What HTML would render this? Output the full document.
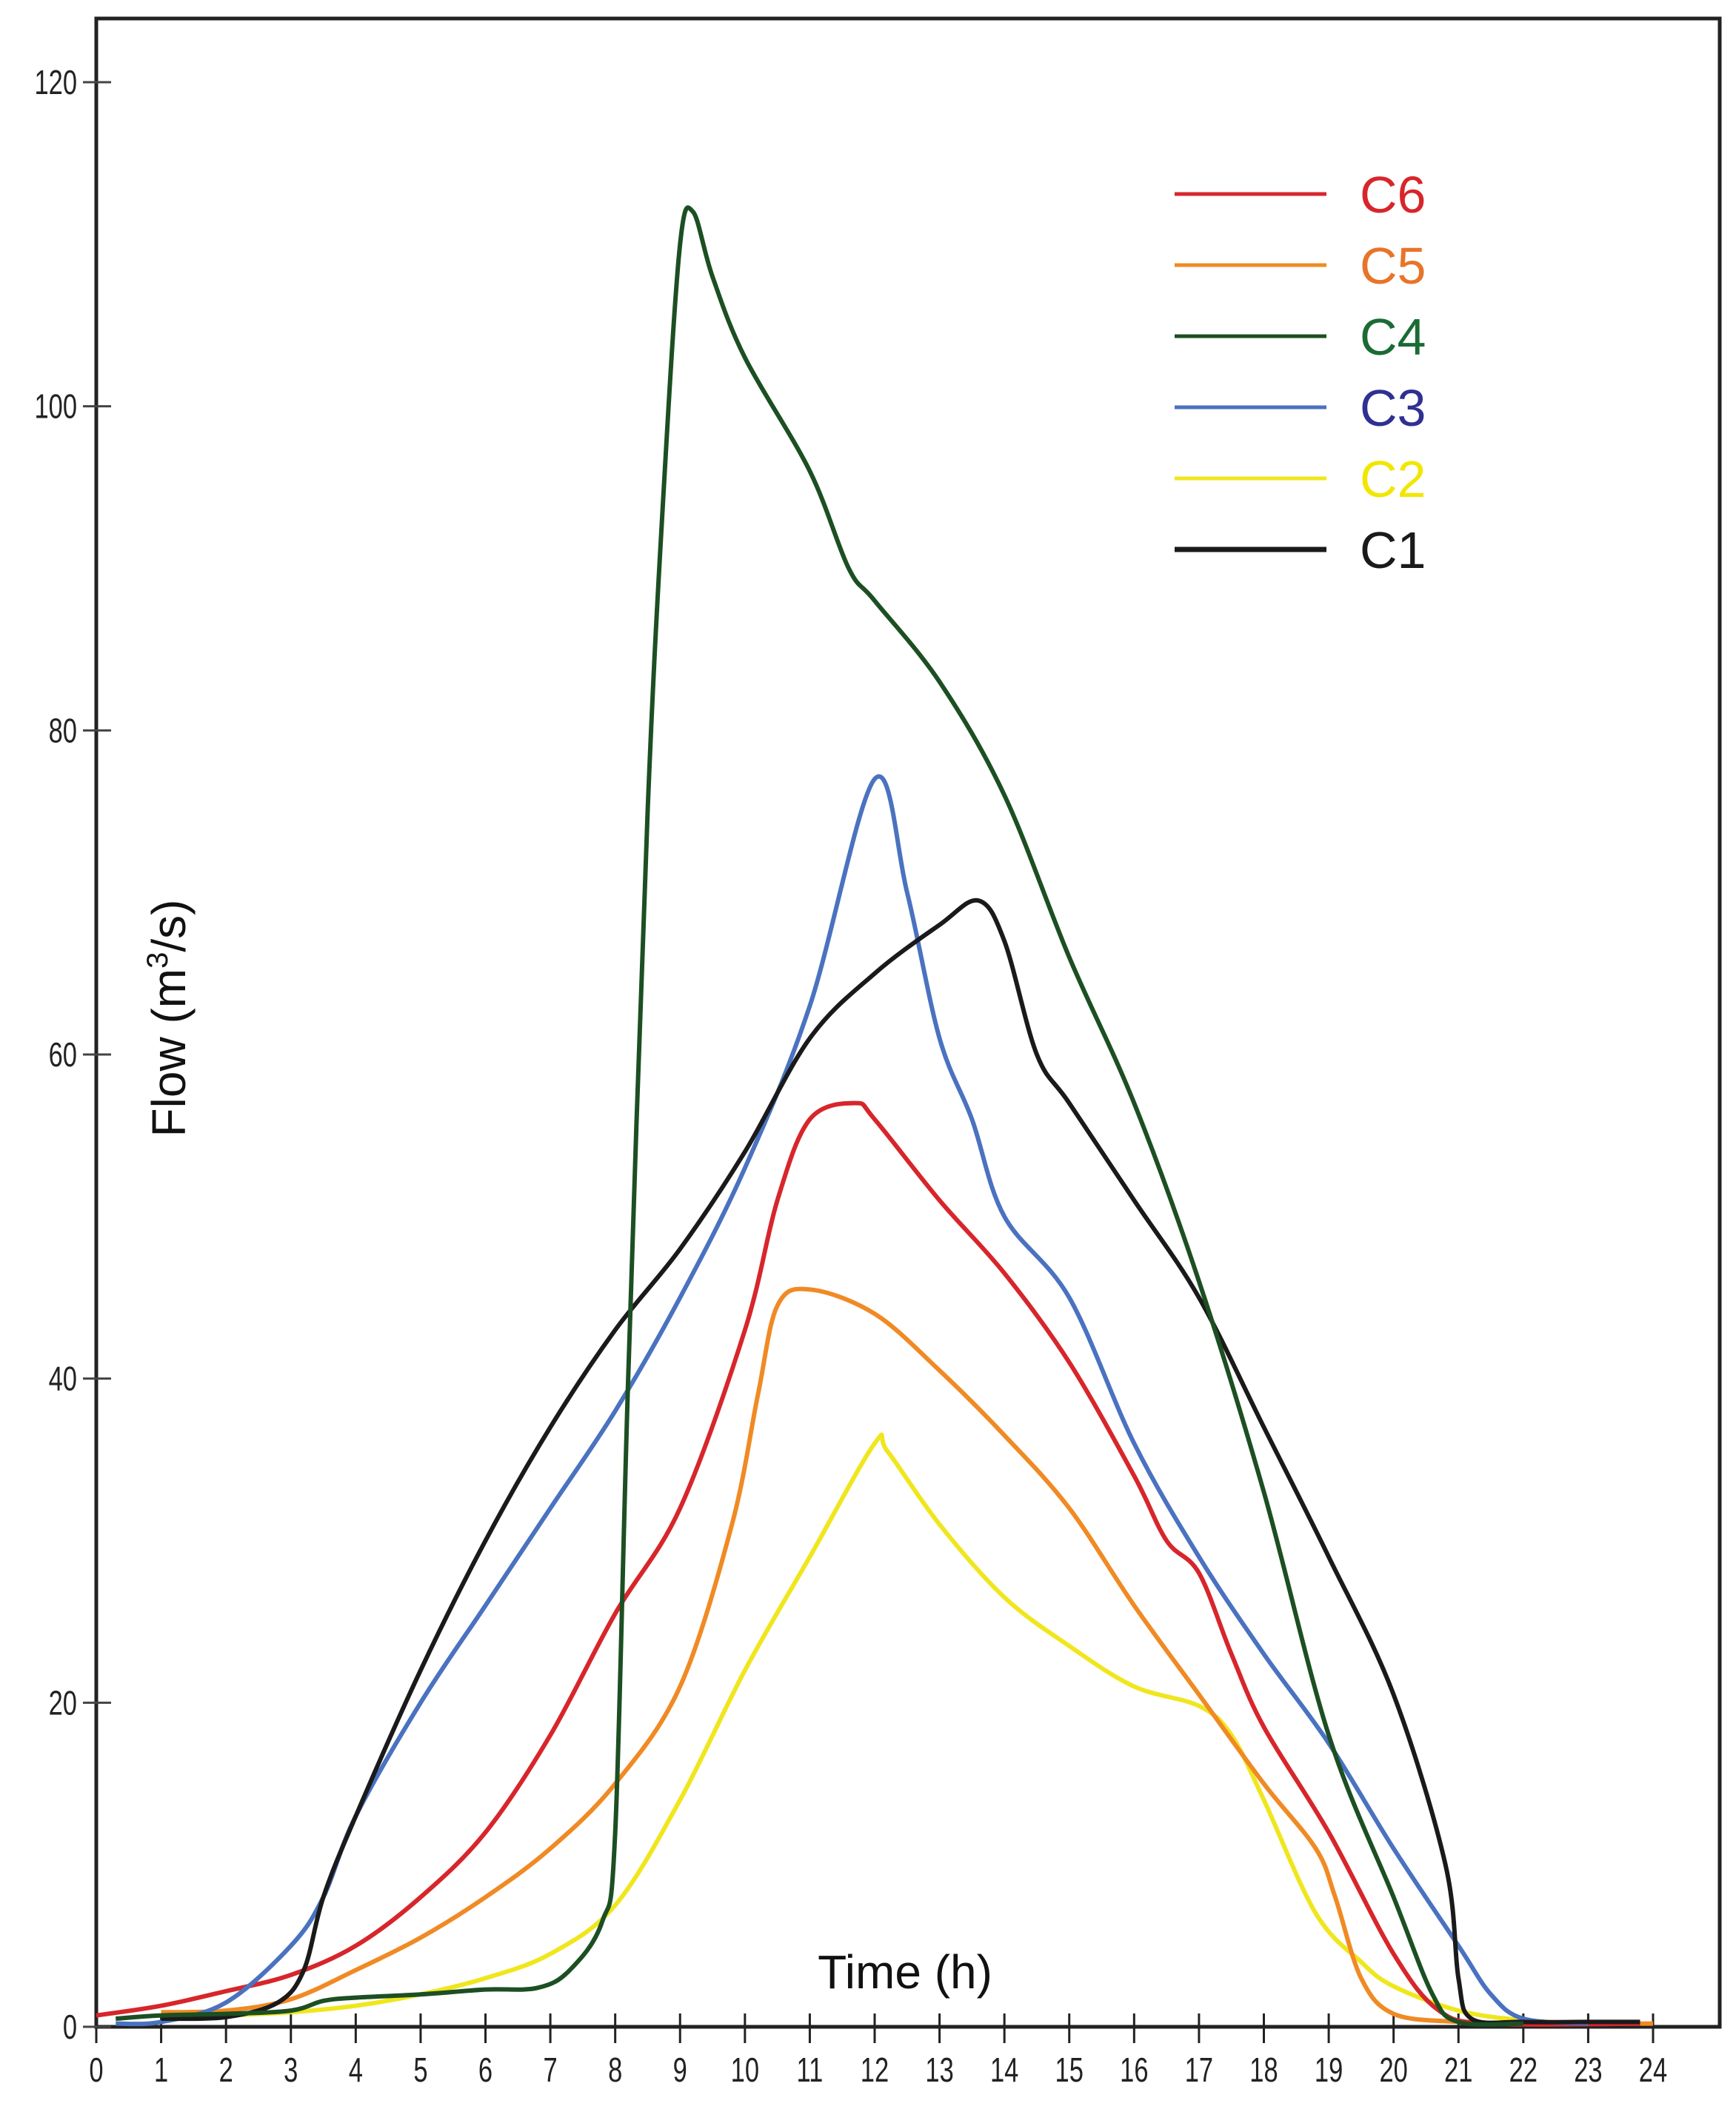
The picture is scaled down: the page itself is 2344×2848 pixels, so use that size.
<!DOCTYPE html>
<html><head><meta charset="utf-8"><style>
html,body{margin:0;padding:0;background:#fff;}
svg{display:block;}
text{font-family:"Liberation Sans",sans-serif;}
</style></head><body>
<svg id="chart" width="2344" height="2848" viewBox="0 0 2344 2848" xmlns="http://www.w3.org/2000/svg">
<rect x="0" y="0" width="2344" height="2848" fill="#fff"/>
<rect x="130" y="25" width="2192" height="2712" fill="none" stroke="#222" stroke-width="5"/>
<g id="axes"></g>
<g id="series"></g>
<text transform="translate(250,1375) rotate(-90)" text-anchor="middle" font-size="64" fill="#111">Flow (m<tspan font-size="40" dy="-24">3</tspan><tspan dy="24">/s)</tspan></text>
<text x="1222" y="2685" text-anchor="middle" font-size="64" fill="#111">Time (h)</text>
<g id="legend"></g>
</svg>
<script>
const xTicks=[0,1,2,3,4,5,6,7,8,9,10,11,12,13,14,15,16,17,18,19,20,21,22,23,24];
const yTicks=[0,20,40,60,80,100,120];
const seriesNames=["C6","C5","C4","C3","C2","C1"];
const c6t=[0,1,2,3,4,5,6,7,8,9,10,10.5,11,11.7,12,13,14,15,16,16.5,17,17.5,18,19,20,20.7,21.5,23.8];
const c6v=[0.7,1.3,2.2,3.2,5,8,12,18,25.5,32,43,51,56,57,56,51,46.5,41,34,30,28,23,18.5,12,4.5,1,0.2,0.2];
const c5t=[1,2,3,4,5,6,7,8,9,9.8,10.2,10.5,11,12,13,14,15,16,17,18,18.8,19.1,19.5,20,21,22,24];
const c5v=[0.9,1,1.7,3.5,5.5,8,11,15,21,31,39,44.5,45.5,44,40.5,36.5,32,26,20.5,15,11,8,3,0.8,0.3,0.2,0.2];
const c4t=[0.3,1,2,3,3.5,4,5,6,6.8,7.3,7.8,8,8.2,8.5,8.75,9,9.2,9.5,10,11,11.6,12,13,14,15,16,17,18,19,20,20.6,21,22];
const c4v=[0.5,0.7,0.8,1,1.6,1.8,2,2.3,2.4,3.5,6.5,12,40,75,95,110,112,108,103,96,90,88,83,76,66,57,46,33,18,8,2,0.3,0.2];
const c3t=[0.3,1,2,3,3.5,4,5,6,7,8,9,10,11,12,12.5,13,13.5,14,15,16,17,18,19,20,21,21.5,22,23];
const c3v=[0.2,0.3,1.5,5,8,13,20,26,32,38,45,53,63,77,70,61,56,50,45,36,29,23,17.5,11,5,2,0.5,0.2];
const c2t=[1,2,3,4,5,6,7,8,9,10,11,12,12.2,13,14,15,16,17,17.5,18,18.8,19.5,20,21,22,23];
const c2v=[0.5,0.7,0.9,1.3,2,3,4.5,7.5,14,22,29,36,35.5,31,26.5,23.5,21,19.8,18,14,7,4,2.5,1,0.4,0.2];
const c1t=[1,2,2.8,3.2,3.5,4,5,6,7,8,9,10,11,12,13,13.6,14,14.5,15,16,17,18,19,20,20.8,21,21.2,22,23,23.8];
const c1v=[0.5,0.6,1.5,3.5,8,13,22,30,37,43,48,54,61,65,68,69.5,67,60,57,51,45,37,29,20.5,10,3,0.5,0.3,0.3,0.3];

const X0=130,X1=2232,Y0=2737,Y1=111;
function xs(t){return X0+(X1-X0)*t/24;}
function ys(v){return Y0-(Y0-Y1)*v/120;}
const NS="http://www.w3.org/2000/svg";
function mk(tag,attrs,parent){const e=document.createElementNS(NS,tag);for(const k in attrs)e.setAttribute(k,attrs[k]);parent.appendChild(e);return e;}
const axes=document.getElementById('axes');
xTicks.forEach(t=>{
  const l=mk('line',{x1:xs(t),x2:xs(t),y1:Y0-18,y2:Y0+22,stroke:'#222','stroke-width':3},axes);
  
  
  const tx=mk('text',{x:xs(t),y:Y0+74,'text-anchor':'middle','font-size':46,fill:'#222',transform:`translate(${xs(t)},0) scale(0.75,1) translate(${-xs(t)},0)`},axes);
  tx.textContent=t;
  
  
});
yTicks.forEach(v=>{
  const l=mk('line',{x1:X0-18,x2:X0+20,y1:ys(v),y2:ys(v),stroke:'#444','stroke-width':3},axes);
  
  
  const tx=mk('text',{x:104,y:ys(v)+16,'text-anchor':'end','font-size':46,fill:'#222',transform:`translate(104,0) scale(0.75,1) translate(-104,0)`},axes);
  tx.textContent=v;
  
  
});
function smooth(ts,vs){
  const p=ts.map((t,i)=>[xs(t),ys(vs[i])]);
  let d=`M${p[0][0]},${p[0][1]}`;
  for(let i=0;i<p.length-1;i++){
    const a=p[i-1]||p[i],b=p[i],c=p[i+1],e=p[i+2]||c;
    const c1x=b[0]+(c[0]-a[0])/6,c1y=b[1]+(c[1]-a[1])/6;
    const c2x=c[0]-(e[0]-b[0])/6,c2y=c[1]-(e[1]-b[1])/6;
    d+=` C${c1x},${c1y} ${c2x},${c2y} ${c[0]},${c[1]}`;
  }
  return d;
}
const colors={C6:'#d7262b',C5:'#f08a24',C4:'#1c4f22',C3:'#4a72c0',C2:'#f0e61e',C1:'#1a1a1a'};
const textColors={C6:'#d7262b',C5:'#e8742a',C4:'#1a6b35',C3:'#2e3192',C2:'#f2e600',C1:'#1a1a1a'};
const sdata={C6:[c6t,c6v],C5:[c5t,c5v],C4:[c4t,c4v],C3:[c3t,c3v],C2:[c2t,c2v],C1:[c1t,c1v]};
const sg=document.getElementById('series');
["C2","C5","C6","C3","C1","C4"].forEach(n=>{
  const pth=mk('path',{d:smooth(sdata[n][0],sdata[n][1]),fill:'none',stroke:colors[n],'stroke-width':6,'stroke-linejoin':'round'},sg);
  
  
});
const lg=document.getElementById('legend');
seriesNames.forEach((n,i)=>{
  const y=262+i*96;
  const l=mk('line',{x1:1586,x2:1791,y1:y,y2:y,stroke:colors[n],'stroke-width':n==='C1'?7:5},lg);
  
  
  const tx=mk('text',{x:1836,y:y+25,'font-size':70,fill:textColors[n]},lg);
  tx.textContent=n;
  
  
});
</script>
</body></html>
